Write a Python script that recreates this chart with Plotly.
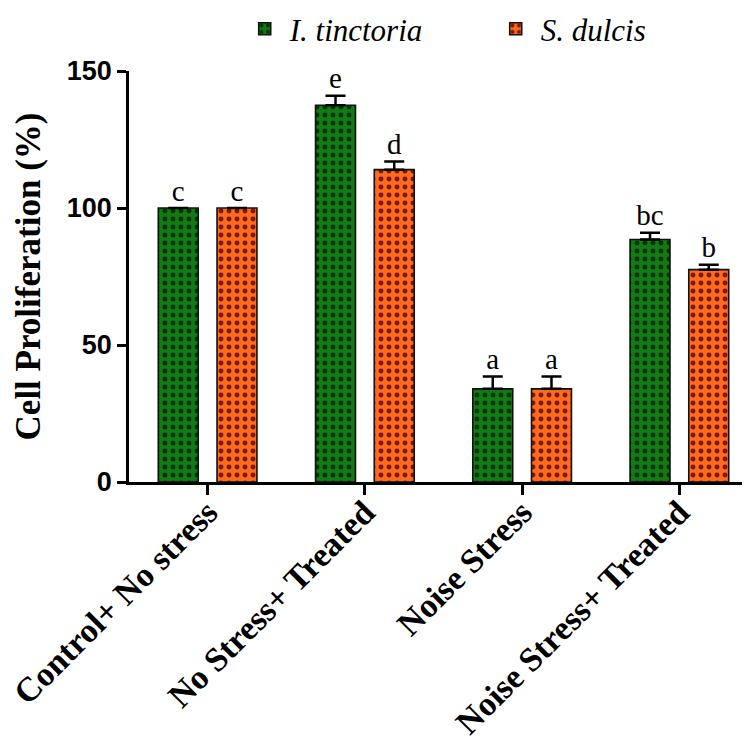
import plotly.graph_objects as go

categories = ["Control+ No stress", "No Stress+ Treated", "Noise Stress", "Noise Stress+ Treated"]
series_names = ["I. tinctoria", "S. dulcis"]
tinctoria = [100, 137.5, 34, 88.5]
tinctoria_err = [0, 3.5, 4.5, 2.5]
dulcis = [100, 114, 34, 77.5]
dulcis_err = [0, 3, 4.5, 1.8]
tinctoria_letters = ["c", "e", "a", "bc"]
dulcis_letters = ["c", "d", "a", "b"]
y_ticks = [0, 50, 100, 150]

serif = "Liberation Serif"
sans = "Liberation Sans"

fig = go.Figure()
specs = [
    (series_names[0], tinctoria, tinctoria_err, tinctoria_letters, "#137a13", "#063306"),
    (series_names[1], dulcis, dulcis_err, dulcis_letters, "#ff6a1c", "#7a1800"),
]
for i, (name, vals, errs, letters, col, fg) in enumerate(specs):
    fig.add_trace(go.Bar(
        x=categories, y=vals, name="<i>" + name + "</i>",
        offsetgroup=str(i),
        marker=dict(color=col, line=dict(color="#111111", width=1.6),
                    pattern=dict(shape=".", fgcolor=fg, bgcolor=col, size=8, solidity=0.3, fillmode="replace")),
        error_y=dict(type="data", array=errs, arrayminus=[0] * len(errs), symmetric=False,
                     color="black", thickness=2.5, width=10, visible=True),
    ))
for i, (name, vals, errs, letters, col, fg) in enumerate(specs):
    fig.add_trace(go.Scatter(
        x=categories, y=[v + e for v, e in zip(vals, errs)], mode="text",
        text=letters, textposition="top center", offsetgroup=str(i),
        textfont=dict(family=serif, size=29, color="black"),
        showlegend=False, hoverinfo="skip",
    ))

fig.update_layout(
    width=750, height=740,
    margin=dict(l=121, r=0, t=63, b=266, autoexpand=False),
    paper_bgcolor="white", plot_bgcolor="white",
    barmode="group", bargap=0.253, bargroupgap=0.32,
    scattermode="group",
    showlegend=True,
    legend=dict(orientation="h", x=0.176, xanchor="left", y=1.102, yanchor="middle",
                font=dict(family=serif, size=31, color="black"), itemwidth=40,
                entrywidth=196, entrywidthmode="pixels",
                bgcolor="rgba(0,0,0,0)"),
    xaxis=dict(range=[-0.5, 3.5], showline=True, linecolor="black", linewidth=2.5,
               ticks="outside", ticklen=10, tickwidth=2.5, tickcolor="black",
               tickangle=-45, ticklabelstandoff=-16,
               tickfont=dict(family=serif, size=34, color="black", weight="bold"),
               showgrid=False, zeroline=False),
    yaxis=dict(range=[0, 150], tickvals=y_ticks, showline=True, linecolor="black", linewidth=2.5,
               ticks="outside", ticklen=9, tickwidth=2.5, tickcolor="black",
               tickfont=dict(family=sans, size=27, color="black", weight="bold"),
               title=dict(text="Cell Proliferation (%)", font=dict(family=serif, size=35, color="black", weight="bold"), standoff=16),
               showgrid=False, zeroline=False),
)
fig.write_html("out.html")
